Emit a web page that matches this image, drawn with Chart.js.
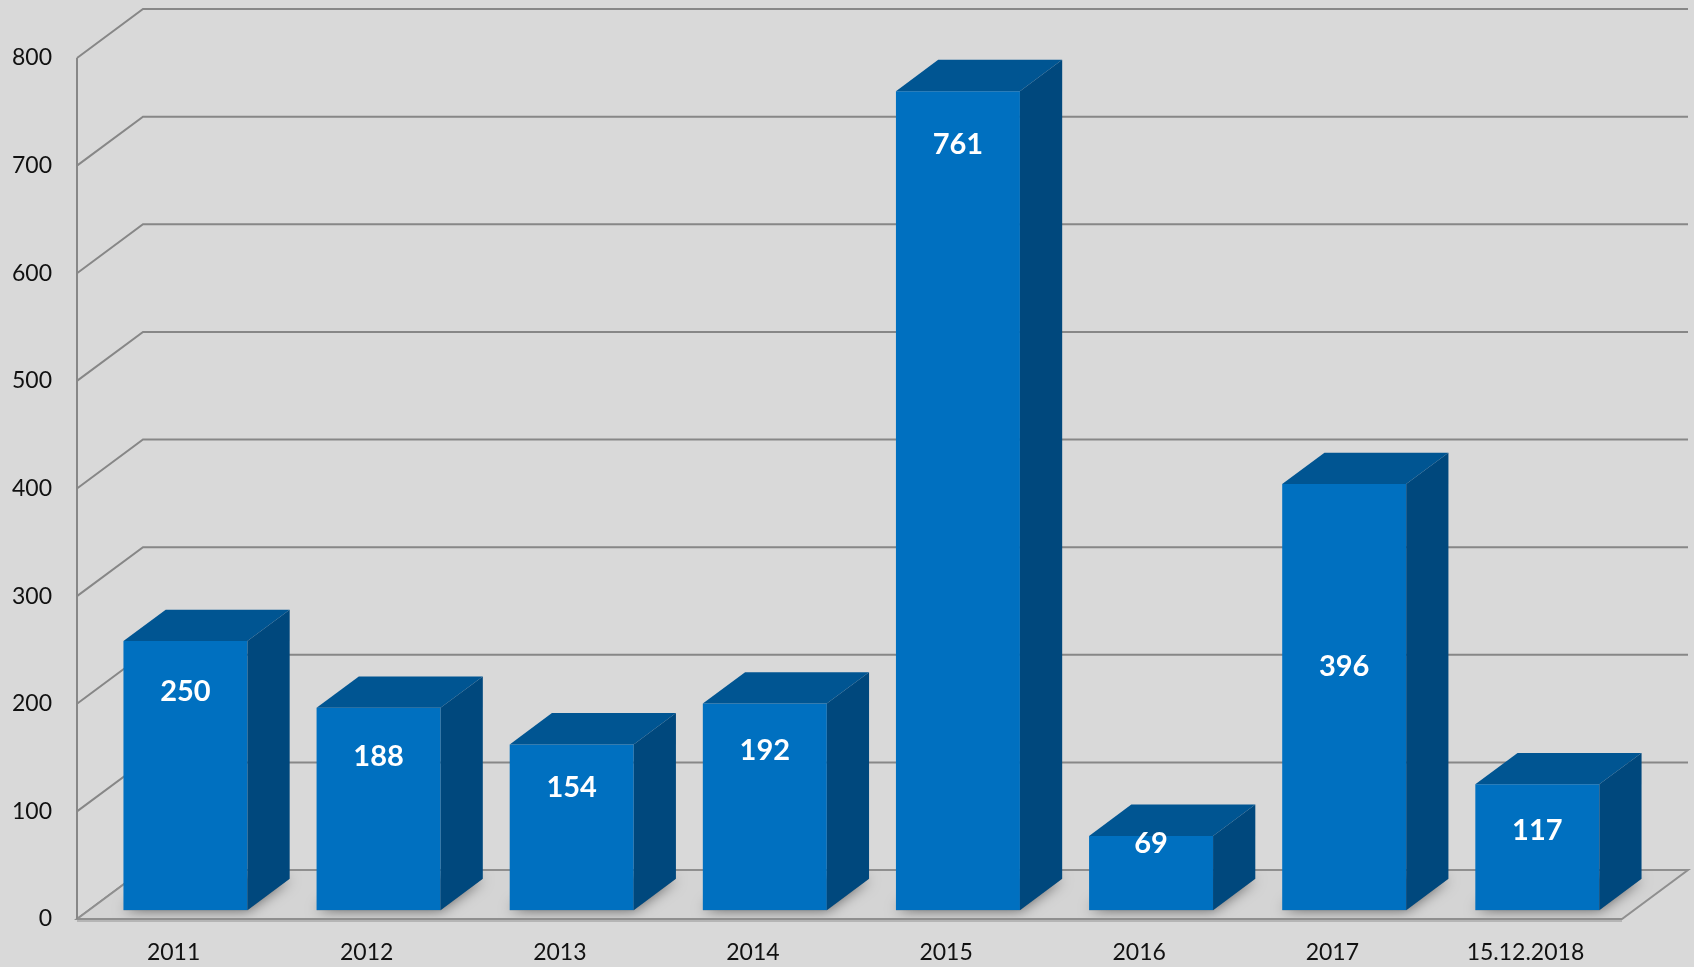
<!DOCTYPE html>
<html>
<head>
<meta charset="utf-8">
<script src="https://cdn.jsdelivr.net/npm/chart.js@4.4.0/dist/chart.umd.min.js"></script>
<style>
  html, body { margin: 0; padding: 0; background: #d9d9d9; }
  canvas { display: block; }
</style>
</head>
<body>
<canvas id="chart" width="1694" height="967"></canvas>
<script>
/* ---------- data ---------- */
const years = ['2011', '2012', '2013', '2014', '2015', '2016', '2017', '15.12.2018'];
const counts = [250, 188, 154, 192, 761, 69, 396, 117];
// where Excel put each value label, in axis units
const labelAt = [203, 143, 114, 148, 711, 62, 226, 74];
const yTicks = [0, 100, 200, 300, 400, 500, 600, 700, 800];

/* ---------- 3D look ---------- */
const DEPTH_X = 66, DEPTH_Y = 49;      // back wall offset
const GAP = 0.18, BAR_DEPTH = 0.64;    // bar position within the floor depth
const GRID = '#878787';
const FRONT = '#0070c0', TOP = '#005592', SIDE = '#00487d';

const threeD = {
    id: 'threeD',
    beforeDatasetsDraw(chart) {
        const { ctx, chartArea: a, scales: { x, y } } = chart;
        ctx.save();

        // back wall + left wall gridlines
        ctx.strokeStyle = GRID;
        ctx.lineWidth = 2;
        yTicks.forEach(v => {
            const py = y.getPixelForValue(v);
            ctx.beginPath();
            ctx.moveTo(a.left, py);
            ctx.lineTo(a.left + DEPTH_X, py - DEPTH_Y);
            ctx.lineTo(a.right + DEPTH_X, py - DEPTH_Y);
            ctx.stroke();
        });

        // floor
        const b = y.getPixelForValue(0);
        const floor = new Path2D();
        floor.moveTo(a.left, b);
        floor.lineTo(a.right, b);
        floor.lineTo(a.right + DEPTH_X, b - DEPTH_Y);
        floor.lineTo(a.left + DEPTH_X, b - DEPTH_Y);
        floor.closePath();
        ctx.fillStyle = '#d4d4d4';
        ctx.fill(floor);

        // soft shadows under bars
        ctx.save();
        ctx.clip(floor);
        const meta = chart.getDatasetMeta(0);
        const ox = DEPTH_X * GAP, oy = DEPTH_Y * GAP;
        const dx = DEPTH_X * BAR_DEPTH, dy = DEPTH_Y * BAR_DEPTH;
        ctx.shadowColor = 'rgba(0,0,0,0.55)';
        ctx.shadowBlur = 14;
        ctx.fillStyle = '#8a8a8a';
        meta.data.forEach(bar => {
            const l = bar.x - bar.width / 2 + ox, r = bar.x + bar.width / 2 + ox;
            const by = b - oy;
            ctx.beginPath();
            ctx.moveTo(l, by);
            ctx.lineTo(r, by);
            ctx.lineTo(r + dx, by - dy);
            ctx.lineTo(l + dx, by - dy);
            ctx.closePath();
            ctx.fill();
        });
        ctx.restore();

        ctx.strokeStyle = '#8f8f8f';
        ctx.lineWidth = 2;
        ctx.stroke(floor);
        ctx.strokeStyle = '#b5b5b5';
        ctx.beginPath();
        ctx.moveTo(a.left, b + 2);
        ctx.lineTo(a.right, b + 2);
        ctx.stroke();

        // front value axis line
        ctx.strokeStyle = GRID;
        ctx.beginPath();
        ctx.moveTo(a.left, y.getPixelForValue(800));
        ctx.lineTo(a.left, b);
        ctx.stroke();
        ctx.restore();

        // push the bars into the depth
        ctx.save();
        ctx.translate(ox, -oy);
    },
    afterDatasetsDraw(chart) {
        const { ctx, scales: { y } } = chart;
        const meta = chart.getDatasetMeta(0);
        const dx = DEPTH_X * BAR_DEPTH, dy = DEPTH_Y * BAR_DEPTH;

        meta.data.forEach((bar, i) => {
            const l = bar.x - bar.width / 2, r = bar.x + bar.width / 2;
            const t = bar.y, bt = bar.base;
            // top face
            ctx.fillStyle = TOP;
            ctx.beginPath();
            ctx.moveTo(l, t);
            ctx.lineTo(l + dx, t - dy);
            ctx.lineTo(r + dx, t - dy);
            ctx.lineTo(r, t);
            ctx.closePath();
            ctx.fill();
            // side face
            ctx.fillStyle = SIDE;
            ctx.beginPath();
            ctx.moveTo(r, t);
            ctx.lineTo(r + dx, t - dy);
            ctx.lineTo(r + dx, bt - dy);
            ctx.lineTo(r, bt);
            ctx.closePath();
            ctx.fill();

            // value label
            ctx.fillStyle = '#ffffff';
            ctx.font = 'bold 29px Lato';
            ctx.textAlign = 'center';
            ctx.textBaseline = 'middle';
            ctx.fillText(String(counts[i]), bar.x, y.getPixelForValue(labelAt[i]));
        });
        ctx.restore();
    }
};

new Chart(document.getElementById('chart'), {
    type: 'bar',
    data: {
        labels: years,
        datasets: [{
            data: counts,
            backgroundColor: FRONT,
            borderWidth: 0,
            barPercentage: 0.642,
            categoryPercentage: 1
        }]
    },
    options: {
        responsive: false,
        animation: false,
        layout: { padding: { top: 58, right: 72, left: 0, bottom: 0 } },
        plugins: { legend: { display: false }, tooltip: { enabled: false } },
        scales: {
            x: {
                grid: { display: false, drawTicks: false },
                border: { display: false },
                ticks: { color: '#111', font: { family: 'Lato', size: 23 }, padding: 20, maxRotation: 0 },
                afterFit(scale) { scale.height = 48; }
            },
            y: {
                min: 0,
                max: 800,
                grid: { display: false, drawTicks: false },
                border: { display: false },
                ticks: { stepSize: 100, color: '#111', font: { family: 'Lato', size: 23 }, padding: 25 },
                afterFit(scale) { scale.width = 77; }
            }
        }
    },
    plugins: [threeD]
});
</script>
</body>
</html>
